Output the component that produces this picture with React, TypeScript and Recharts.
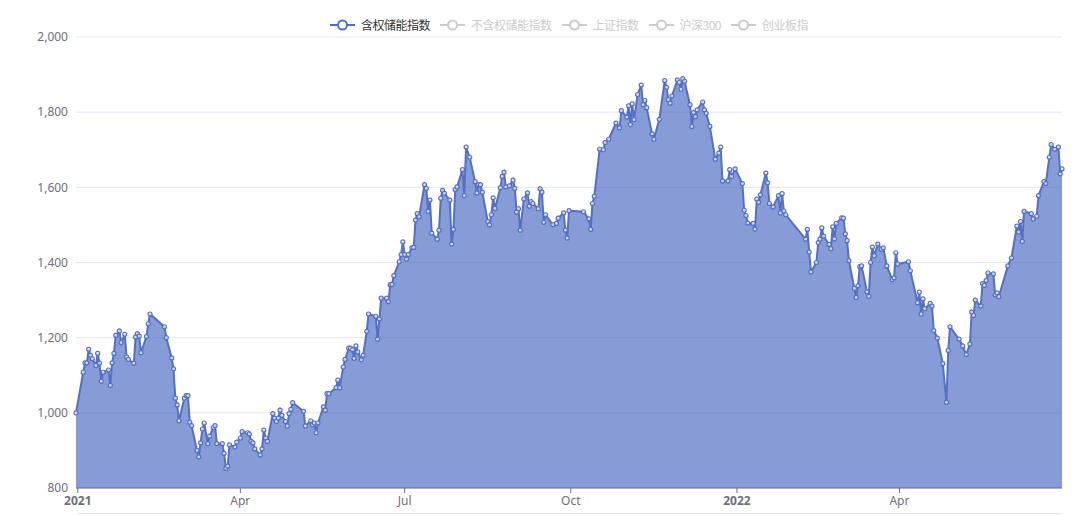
import React from 'react';
import { AreaChart, Area, XAxis, YAxis, CartesianGrid } from 'recharts';

// legend entries, only the first series is switched on
const seriesNames = ['含权储能指数', '不含权储能指数', '上证指数', '沪深300', '创业板指'];
const activeSeries = ['含权储能指数'];

const yTicks = [800, 1000, 1200, 1400, 1600, 1800, 2000];
const xTickDates = ['2021-01-01', '2021-04-01', '2021-07-01', '2021-10-01', '2022-01-01', '2022-04-01'];
const monthNames = ['Jan', 'Feb', 'Mar', 'Apr', 'May', 'Jun', 'Jul', 'Aug', 'Sep', 'Oct', 'Nov', 'Dec'];

const dates = [
  '2020-12-31',
  '2021-01-04', '2021-01-05', '2021-01-06', '2021-01-07', '2021-01-08', '2021-01-09', '2021-01-11', '2021-01-12', '2021-01-13', '2021-01-14', '2021-01-15', '2021-01-18', '2021-01-19', '2021-01-20', '2021-01-21', '2021-01-22', '2021-01-24', '2021-01-25', '2021-01-27', '2021-01-28', '2021-01-29',
  '2021-02-01', '2021-02-02', '2021-02-03', '2021-02-04', '2021-02-05', '2021-02-08', '2021-02-09', '2021-02-10', '2021-02-18', '2021-02-19', '2021-02-22', '2021-02-23', '2021-02-24', '2021-02-25', '2021-02-26',
  '2021-03-01', '2021-03-02', '2021-03-03', '2021-03-04', '2021-03-05', '2021-03-08', '2021-03-09', '2021-03-10', '2021-03-11', '2021-03-12', '2021-03-14', '2021-03-15', '2021-03-17', '2021-03-18', '2021-03-19', '2021-03-22', '2021-03-23', '2021-03-24', '2021-03-25', '2021-03-26', '2021-03-29', '2021-03-30',
  '2021-04-01', '2021-04-02', '2021-04-05', '2021-04-06', '2021-04-07', '2021-04-08', '2021-04-09', '2021-04-12', '2021-04-13', '2021-04-14', '2021-04-15', '2021-04-16', '2021-04-19', '2021-04-20', '2021-04-21', '2021-04-22', '2021-04-23', '2021-04-24', '2021-04-26', '2021-04-27', '2021-04-28', '2021-04-29', '2021-04-30',
  '2021-05-06', '2021-05-07', '2021-05-10', '2021-05-11', '2021-05-12', '2021-05-13', '2021-05-14', '2021-05-17', '2021-05-18', '2021-05-19', '2021-05-20', '2021-05-24', '2021-05-25', '2021-05-26', '2021-05-28', '2021-05-29', '2021-05-31',
  '2021-06-01', '2021-06-02', '2021-06-03', '2021-06-04', '2021-06-05', '2021-06-07', '2021-06-08', '2021-06-10', '2021-06-11', '2021-06-15', '2021-06-16', '2021-06-17', '2021-06-18', '2021-06-21', '2021-06-22', '2021-06-23', '2021-06-24', '2021-06-25', '2021-06-28', '2021-06-29', '2021-06-30',
  '2021-07-01', '2021-07-02', '2021-07-03', '2021-07-05', '2021-07-06', '2021-07-07', '2021-07-08', '2021-07-09', '2021-07-12', '2021-07-13', '2021-07-14', '2021-07-15', '2021-07-16', '2021-07-19', '2021-07-20', '2021-07-21', '2021-07-22', '2021-07-23', '2021-07-26', '2021-07-27', '2021-07-28', '2021-07-29', '2021-07-30',
  '2021-08-02', '2021-08-03', '2021-08-04', '2021-08-06', '2021-08-09', '2021-08-10', '2021-08-11', '2021-08-12', '2021-08-13', '2021-08-16', '2021-08-17', '2021-08-18', '2021-08-19', '2021-08-20', '2021-08-23', '2021-08-24', '2021-08-25', '2021-08-26', '2021-08-28', '2021-08-30', '2021-08-31',
  '2021-09-01', '2021-09-02', '2021-09-03', '2021-09-05', '2021-09-07', '2021-09-08', '2021-09-09', '2021-09-10', '2021-09-13', '2021-09-14', '2021-09-15', '2021-09-16', '2021-09-17', '2021-09-21', '2021-09-23', '2021-09-24', '2021-09-27', '2021-09-28', '2021-09-29', '2021-09-30',
  '2021-10-08', '2021-10-11', '2021-10-12', '2021-10-13', '2021-10-14', '2021-10-17', '2021-10-19', '2021-10-20', '2021-10-22', '2021-10-26', '2021-10-28', '2021-10-29',
  '2021-11-01', '2021-11-02', '2021-11-03', '2021-11-04', '2021-11-05', '2021-11-07', '2021-11-09', '2021-11-10', '2021-11-11', '2021-11-12', '2021-11-15', '2021-11-16', '2021-11-19', '2021-11-22', '2021-11-23', '2021-11-24', '2021-11-25', '2021-11-26', '2021-11-29', '2021-11-30',
  '2021-12-01', '2021-12-02', '2021-12-03', '2021-12-06', '2021-12-07', '2021-12-08', '2021-12-09', '2021-12-10', '2021-12-13', '2021-12-14', '2021-12-15', '2021-12-17', '2021-12-20', '2021-12-22', '2021-12-23', '2021-12-24', '2021-12-27', '2021-12-28', '2021-12-29', '2021-12-31',
  '2022-01-04', '2022-01-05', '2022-01-06', '2022-01-07', '2022-01-10', '2022-01-11', '2022-01-12', '2022-01-13', '2022-01-14', '2022-01-17', '2022-01-18', '2022-01-19', '2022-01-21', '2022-01-24', '2022-01-25', '2022-01-26', '2022-01-27', '2022-01-28',
  '2022-02-08', '2022-02-09', '2022-02-10', '2022-02-11', '2022-02-14', '2022-02-15', '2022-02-16', '2022-02-17', '2022-02-18', '2022-02-21', '2022-02-22', '2022-02-23', '2022-02-24', '2022-02-25', '2022-02-28',
  '2022-03-01', '2022-03-02', '2022-03-03', '2022-03-04', '2022-03-07', '2022-03-08', '2022-03-09', '2022-03-10', '2022-03-11', '2022-03-14', '2022-03-15', '2022-03-16', '2022-03-17', '2022-03-18', '2022-03-20', '2022-03-22', '2022-03-23', '2022-03-25', '2022-03-28', '2022-03-29', '2022-03-30', '2022-03-31',
  '2022-04-06', '2022-04-07', '2022-04-11', '2022-04-12', '2022-04-13', '2022-04-14', '2022-04-15', '2022-04-18', '2022-04-19', '2022-04-20', '2022-04-22', '2022-04-25', '2022-04-27', '2022-04-28', '2022-04-29',
  '2022-05-04', '2022-05-06', '2022-05-08', '2022-05-10', '2022-05-11', '2022-05-12', '2022-05-13', '2022-05-16', '2022-05-17', '2022-05-18', '2022-05-19', '2022-05-20', '2022-05-23', '2022-05-24', '2022-05-25', '2022-05-26', '2022-05-31',
  '2022-06-02', '2022-06-05', '2022-06-06', '2022-06-07', '2022-06-08', '2022-06-09', '2022-06-13', '2022-06-14', '2022-06-16', '2022-06-17', '2022-06-20', '2022-06-21', '2022-06-23', '2022-06-24', '2022-06-26', '2022-06-28', '2022-06-29', '2022-06-30',
];

const values = [
  1000,
  1108, 1133, 1133, 1169, 1153, 1144, 1126, 1158, 1132, 1084, 1108, 1114, 1073, 1133, 1158, 1206, 1218, 1187, 1209, 1149, 1142,
  1132, 1202, 1211, 1204, 1160, 1203, 1237, 1263, 1229, 1200, 1146, 1117, 1039, 1021, 979,
  1039, 1046, 1046, 975, 966, 900, 883, 920, 957, 973, 918, 938, 961, 966, 918, 918, 892, 852, 858, 915, 909, 922,
  933, 950, 947, 944, 924, 920, 904, 888, 904, 954, 933, 924, 998, 986, 977, 986, 1007, 993, 977, 965, 998, 1009, 1027,
  1004, 965, 979, 968, 973, 947, 973, 1016, 1007, 1051, 1051, 1067, 1087, 1067, 1122, 1142, 1172,
  1172, 1168, 1145, 1178, 1162, 1141, 1153, 1217, 1263, 1257, 1196, 1250, 1305, 1305, 1296, 1341, 1342, 1365, 1402, 1421, 1455,
  1421, 1409, 1421, 1439, 1440, 1513, 1530, 1522, 1607, 1597, 1536, 1566, 1478, 1462, 1486, 1571, 1592, 1584, 1566, 1449, 1488, 1594, 1601,
  1647, 1578, 1707, 1680, 1615, 1585, 1607, 1607, 1587, 1509, 1500, 1527, 1572, 1544, 1599, 1629, 1640, 1601, 1604, 1619, 1597,
  1534, 1543, 1486, 1569, 1585, 1550, 1562, 1557, 1543, 1596, 1587, 1507, 1527, 1501, 1504, 1518, 1532, 1486, 1465, 1538,
  1535, 1516, 1488, 1557, 1576, 1702, 1700, 1719, 1728, 1771, 1758, 1804,
  1787, 1817, 1767, 1822, 1780, 1847, 1872, 1820, 1831, 1812, 1742, 1728, 1781, 1884, 1866, 1833, 1824, 1843, 1886, 1879,
  1861, 1889, 1882, 1820, 1762, 1799, 1788, 1806, 1827, 1806, 1797, 1762, 1675, 1691, 1707, 1617, 1617, 1647, 1629, 1649,
  1610, 1539, 1525, 1505, 1504, 1489, 1569, 1560, 1580, 1638, 1612, 1557, 1548, 1578, 1532, 1583, 1537, 1527,
  1462, 1488, 1428, 1375, 1400, 1453, 1462, 1492, 1470, 1448, 1437, 1495, 1463, 1504, 1519,
  1518, 1476, 1458, 1405, 1331, 1307, 1338, 1389, 1391, 1322, 1310, 1400, 1441, 1418, 1449, 1435, 1439, 1391, 1354, 1359, 1426, 1396,
  1402, 1378, 1293, 1321, 1263, 1303, 1277, 1291, 1284, 1219, 1199, 1131, 1028, 1166, 1229,
  1196, 1178, 1155, 1183, 1268, 1259, 1300, 1284, 1344, 1339, 1352, 1372, 1370, 1314, 1319, 1309, 1391,
  1412, 1497, 1481, 1509, 1456, 1536, 1530, 1516, 1523, 1578, 1615, 1610, 1680, 1714, 1701, 1707, 1636, 1649,
];

const toTime = (s: string) => Date.UTC(+s.slice(0, 4), +s.slice(5, 7) - 1, +s.slice(8, 10));

const data = dates.map((d, i) => ({ t: toTime(d), v: values[i] }));

const BLUE = '#5470c6';
const AXIS = '#6E7079';
const GRID = '#E0E6F1';

const XTick = (props: any) => {
  const { x, y, payload } = props;
  const d = new Date(payload.value);
  const m = d.getUTCMonth();
  const label = m === 0 ? String(d.getUTCFullYear()) : monthNames[m];
  return (
    <text x={x} y={y} dy={10} textAnchor="middle" fill={AXIS} fontSize={12} fontWeight={m === 0 ? 700 : 400}>
      {label}
    </text>
  );
};

const LegendIcon = ({ color }: { color: string }) => (
  <svg width={25} height={14} style={{ display: 'block' }}>
    <line x1={0} y1={7} x2={25} y2={7} stroke={color} strokeWidth={2} />
    <circle cx={12.5} cy={7} r={4.5} fill="#fff" stroke={color} strokeWidth={2} />
  </svg>
);

const App: React.FC = () => {
  return (
    <div
      style={{
        position: 'absolute', left: 0, top: 0, width: 1080, height: 515, background: '#fff',
        fontFamily: "'Noto Sans', 'Noto Sans CJK SC', sans-serif",
      }}
    >
      {/* legend */}
      <div
        style={{
          position: 'absolute', left: 76, top: 18, width: 986, height: 14,
          display: 'flex', justifyContent: 'center', alignItems: 'center', gap: 10, zIndex: 2,
        }}
      >
        {seriesNames.map(name => {
          const on = activeSeries.includes(name);
          return (
            <div key={name} style={{ display: 'flex', alignItems: 'center', gap: 6 }}>
              <LegendIcon color={on ? BLUE : '#ccc'} />
              <span
                style={{
                  fontSize: 12, lineHeight: '14px', letterSpacing: '-0.5px',
                  color: on ? '#333' : '#ccc', fontFamily: "'Noto Sans CJK SC', sans-serif",
                }}
              >
                {name}
              </span>
            </div>
          );
        })}
      </div>

      <AreaChart width={1080} height={515} data={data} margin={{ top: 37, right: 18, bottom: 0, left: 0 }}>
        <CartesianGrid vertical={false} stroke={GRID} />
        <XAxis
          dataKey="t"
          type="number"
          domain={[toTime('2020-12-31'), toTime('2022-06-30')]}
          ticks={xTickDates.map(toTime)}
          tick={<XTick />}
          height={27}
          tickSize={5}
          tickMargin={2}
          axisLine={{ stroke: AXIS }}
          tickLine={{ stroke: AXIS }}
        />
        <YAxis
          type="number"
          domain={[800, 2000]}
          ticks={yTicks}
          width={76}
          axisLine={false}
          tickLine={false}
          tick={{ fill: AXIS, fontSize: 12 }}
          tickFormatter={(v: number) => v.toLocaleString('en-US')}
        />
        <Area
          type="linear"
          dataKey="v"
          stroke={BLUE}
          strokeWidth={2}
          fill={BLUE}
          fillOpacity={0.7}
          dot={{ r: 2, fill: '#fff', stroke: BLUE, strokeWidth: 1.2 }}
          activeDot={false}
          isAnimationActive={false}
        />
      </AreaChart>

      {/* faint rule under the axis labels */}
      <div style={{ position: 'absolute', left: 78, top: 513, width: 984, height: 1, background: GRID }} />
    </div>
  );
};

export default App;
